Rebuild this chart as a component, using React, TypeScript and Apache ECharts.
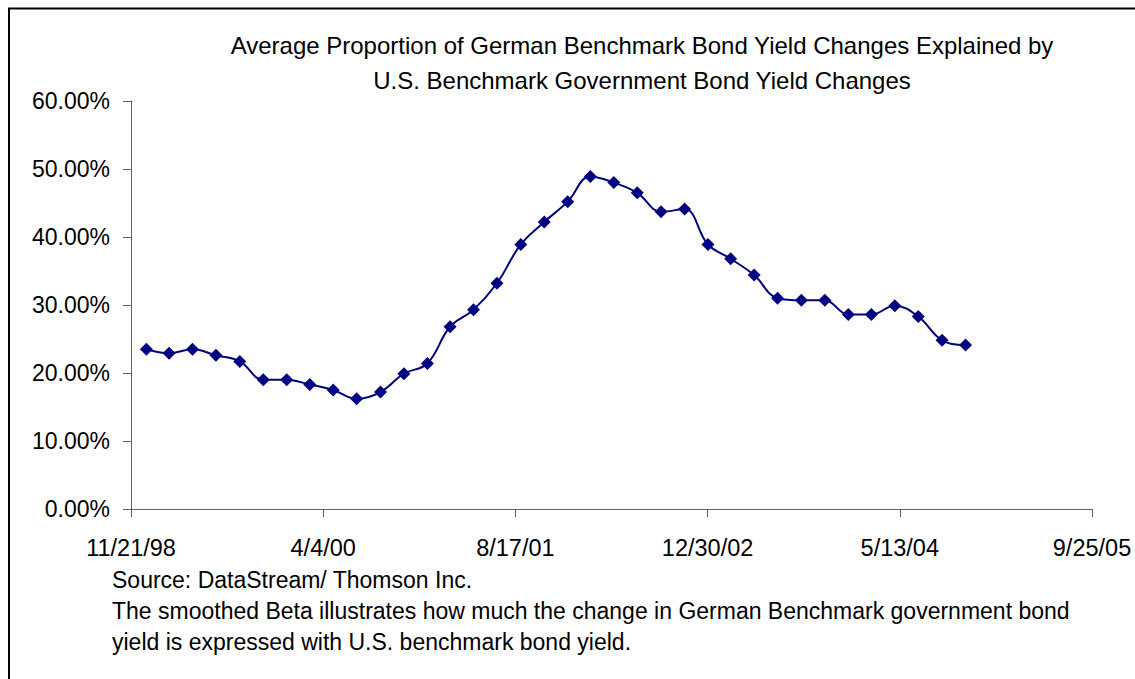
import React, { useEffect, useRef } from "react";
import * as echarts from "echarts";

const titleLines = [
  "Average Proportion of German Benchmark Bond Yield Changes Explained by",
  "U.S. Benchmark Government Bond Yield Changes",
];

const footnoteLines = [
  "Source: DataStream/ Thomson Inc.",
  "The smoothed Beta illustrates how much the change in German Benchmark government bond",
  "yield is expressed with U.S. benchmark bond yield.",
];

const axisStartDate = "1998-11-21";
const xTickLabels = ["11/21/98", "4/4/00", "8/17/01", "12/30/02", "5/13/04", "9/25/05"];
const xTickStepDays = 500;

const dates = [
  "1998-12-31", "1999-02-28", "1999-04-30", "1999-06-30", "1999-08-31", "1999-10-31",
  "1999-12-31", "2000-02-29", "2000-04-30", "2000-06-30", "2000-08-31", "2000-10-31",
  "2000-12-31", "2001-02-28", "2001-04-30", "2001-06-30", "2001-08-31", "2001-10-31",
  "2001-12-31", "2002-02-28", "2002-04-30", "2002-06-30", "2002-08-31", "2002-10-31",
  "2002-12-31", "2003-02-28", "2003-04-30", "2003-06-30", "2003-08-31", "2003-10-31",
  "2003-12-31", "2004-02-29", "2004-04-30", "2004-06-30", "2004-08-31", "2004-10-31",
];

const proportions = [
  23.5, 22.9, 23.5, 22.6, 21.7, 19.0,
  19.0, 18.3, 17.5, 16.2, 17.2, 19.9,
  21.4, 26.8, 29.3, 33.2, 38.9, 42.2,
  45.2, 48.9, 48.0, 46.5, 43.7, 44.1,
  38.9, 36.8, 34.4, 31.0, 30.7, 30.7,
  28.6, 28.6, 29.9, 28.3, 24.8, 24.1,
];

const yTickValues = [0, 10, 20, 30, 40, 50, 60];

const DAY = 86400000;
const toOffset = (d: string) => (Date.parse(d + "T00:00:00Z") - Date.parse(axisStartDate + "T00:00:00Z")) / DAY;

const FONT = "'Liberation Sans', Arial, sans-serif";

export default function App() {
  const ref = useRef<HTMLDivElement>(null);

  useEffect(() => {
    if (!ref.current) return;
    const chart = echarts.init(ref.current, null, { renderer: "svg" });
    const data = dates.map((d, i) => [toOffset(d), proportions[i]]);
    const xMax = xTickStepDays * (xTickLabels.length - 1);

    chart.setOption({
      animation: false,
      backgroundColor: "#ffffff",
      title: {
        text: titleLines.join("\n"),
        left: 642,
        textAlign: "center",
        top: 28,
        padding: 0,
        textStyle: {
          fontFamily: FONT,
          fontSize: 24,
          fontWeight: "normal",
          color: "#000000",
          lineHeight: 35,
        },
      },
      grid: { left: 131, top: 101, width: 961, height: 408, containLabel: false },
      xAxis: {
        type: "value",
        min: 0,
        max: xMax,
        interval: xTickStepDays,
        splitLine: { show: false },
        axisLine: { show: true, lineStyle: { color: "#606060", width: 1 } },
        axisTick: { show: true, length: 8, lineStyle: { color: "#606060", width: 1 } },
        axisLabel: {
          margin: 27,
          fontFamily: FONT,
          fontSize: 23.5,
          color: "#000000",
          formatter: (v: number) => xTickLabels[Math.round(v / xTickStepDays)] ?? "",
        },
      },
      yAxis: {
        type: "value",
        min: yTickValues[0],
        max: yTickValues[yTickValues.length - 1],
        interval: 10,
        splitLine: { show: false },
        axisLine: { show: true, lineStyle: { color: "#606060", width: 1 } },
        axisTick: { show: true, length: 8, lineStyle: { color: "#606060", width: 1 } },
        axisLabel: {
          margin: 21,
          fontFamily: FONT,
          fontSize: 23,
          color: "#000000",
          formatter: (v: number) => v.toFixed(2) + "%",
        },
      },
      series: [
        {
          type: "line",
          data,
          smooth: 0.4,
          symbol: "diamond",
          symbolSize: 13,
          showAllSymbol: true,
          lineStyle: { color: "#000080", width: 2 },
          itemStyle: { color: "#000080" },
        },
      ],
      graphic: [
        {
          type: "rect",
          shape: { x: 9, y: 8.5, width: 1200, height: 800 },
          style: { fill: "none", stroke: "#000000", lineWidth: 2 },
          silent: true,
        },
        ...footnoteLines.map((t, i) => ({
          type: "text",
          x: 112,
          y: 579.5 + i * 31,
          style: {
            text: t,
            fontFamily: FONT,
            fontSize: 23,
            fill: "#000000",
            verticalAlign: "middle",
            align: "left",
          },
        })),
      ],
    });

    return () => chart.dispose();
  }, []);

  return (
    <div
      ref={ref}
      style={{ position: "fixed", left: 0, top: 0, width: 1135, height: 679 }}
    />
  );
}
